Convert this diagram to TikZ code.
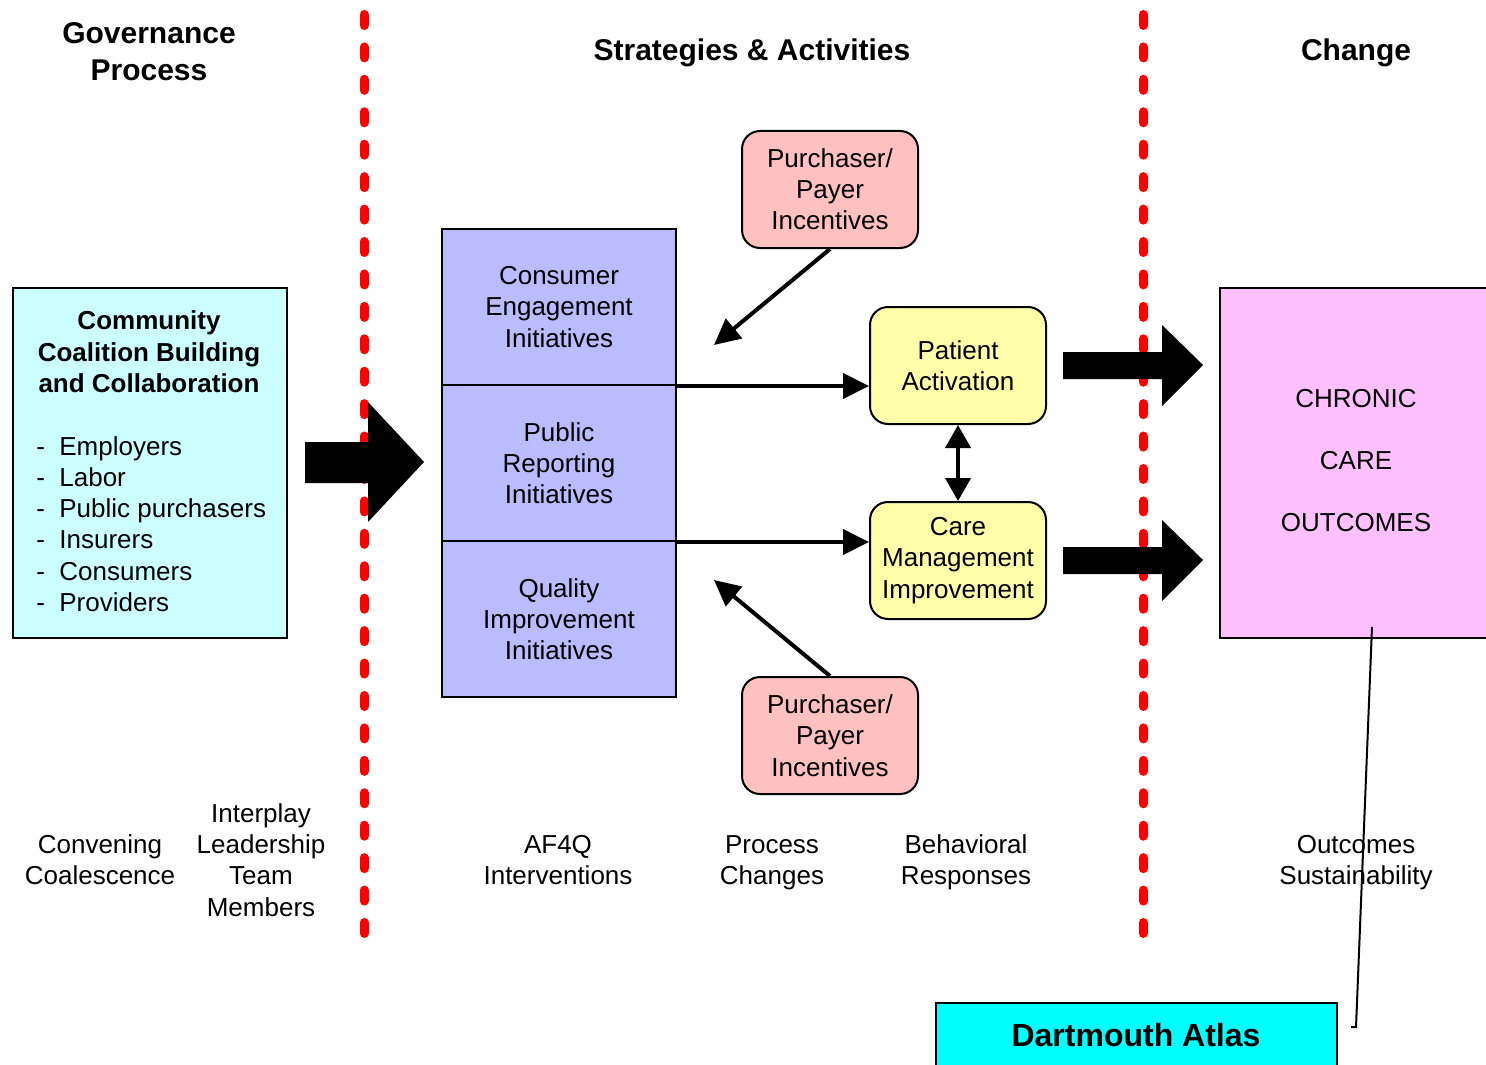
\documentclass[tikz,border=0pt]{standalone}
\usepackage{fontspec}
\setmainfont{Liberation Sans}
\usetikzlibrary{arrows.meta}
\definecolor{cyanbox}{HTML}{CCFFFF}
\definecolor{bluebox}{HTML}{BBBBFF}
\definecolor{pinkbox}{HTML}{FFC0C0}
\definecolor{yellowbox}{HTML}{FFFFAA}
\definecolor{magbox}{HTML}{FFC0FF}
\definecolor{atlas}{HTML}{00FFFF}
\begin{document}
\begin{tikzpicture}[x=0.5pt,y=-0.5pt,
  txt/.style={font=\fontsize{13}{15.6}\selectfont, align=center, inner sep=0pt},
  ttl/.style={font=\bfseries\fontsize{15}{18.5}\selectfont, align=center, inner sep=0pt},
  box/.style={draw=black, line width=1pt, inner sep=0pt, font=\fontsize{13}{15.6}\selectfont, align=center},
  rbox/.style={box, rounded corners=9pt},
  redline/.style={draw=red, line width=4.5pt, line cap=round, dash pattern=on 5.5pt off 10.714pt},
  conn/.style={line width=2pt, -{Triangle[length=13pt,width=12.5pt]}},
  dconn/.style={line width=2pt, {Triangle[length=11.5pt,width=12.5pt]}-{Triangle[length=11.5pt,width=12.5pt]}},
  blockarrow/.style={fill=black},
]
\useasboundingbox (0,0) rectangle (1486,1064);
\clip (0,0) rectangle (1486,1064);
\fill[white] (0,0) rectangle (1486,1064);

% column titles
\node[ttl] (t1) at (149,52) {Governance\\Process};
\node[ttl] (t2) at (752,53) {Strategies \& Activities};
\node[ttl] (t3) at (1356,53) {Change};

% red dividers
\coordinate (r1a) at (364,14.5);
\coordinate (r1b) at (364,933.5);
\coordinate (r2a) at (1143,14.5);
\coordinate (r2b) at (1143,933.5);
\draw[redline] (r1a) -- (r1b);
\draw[redline] (r2a) -- (r2b);

% governance box
\node[box, fill=cyanbox, minimum width=137pt, minimum height=175pt] (gov) at (150,463) {};
\node[txt, font=\bfseries\fontsize{13}{15.75}\selectfont] (govt) at (149,352) {Community\\Coalition Building\\and Collaboration};
\node[txt, align=left, anchor=west] (list) at (36,524) {\makebox[11.5pt][l]{-}Employers\\\makebox[11.5pt][l]{-}Labor\\\makebox[11.5pt][l]{-}Public purchasers\\\makebox[11.5pt][l]{-}Insurers\\\makebox[11.5pt][l]{-}Consumers\\\makebox[11.5pt][l]{-}Providers};

% left block arrow
\fill[blockarrow] (305,442) -- (368,442) -- (368,402) -- (424,462) -- (368,522) -- (368,483) -- (305,483) -- cycle;

% strategy boxes
\node[box, fill=bluebox, minimum width=117pt, minimum height=78pt] (b1) at (559,307) {Consumer\\Engagement\\Initiatives};
\node[box, fill=bluebox, minimum width=117pt, minimum height=78pt] (b2) at (559,463) {Public\\Reporting\\Initiatives};
\node[box, fill=bluebox, minimum width=117pt, minimum height=78pt] (b3) at (559,619) {Quality\\Improvement\\Initiatives};

% incentives
\node[rbox, fill=pinkbox, minimum width=88pt, minimum height=58.5pt] (pp1) at (830,189.5) {Purchaser/\\Payer\\Incentives};
\node[rbox, fill=pinkbox, minimum width=88pt, minimum height=58.5pt] (pp2) at (830,735.5) {Purchaser/\\Payer\\Incentives};

% behavioural responses
\node[rbox, fill=yellowbox, minimum width=88pt, minimum height=58.5pt] (pa) at (958,365.5) {Patient\\Activation};
\node[rbox, fill=yellowbox, minimum width=88pt, minimum height=58.5pt] (cm) at (958,560.5) {Care\\Management\\Improvement};

% connectors
\draw[conn] (b1.south east) -- (b1.south east -| pa.west);
\draw[conn] (b2.south east) -- (b2.south east -| cm.west);
\coordinate (d1) at (714,345);
\coordinate (d2) at (714,580);
\draw[conn] (pp1.south) -- (d1);
\draw[conn] (pp2.north) -- (d2);
\draw[dconn] (pa.south) -- (cm.north);

% right block arrows
\fill[blockarrow] (1063,352) -- (1162,352) -- (1162,325) -- (1203,365) -- (1162,406) -- (1162,379) -- (1063,379) -- cycle;
\fill[blockarrow] (1063,547) -- (1162,547) -- (1162,520) -- (1203,560) -- (1162,601) -- (1162,574) -- (1063,574) -- cycle;

% outcomes box
\node[box, fill=magbox, minimum width=150pt, minimum height=175pt] (co) at (1370,463) {};
\node[txt, font=\fontsize{13}{31}\selectfont] (cot) at (1356,461) {CHRONIC\\CARE\\OUTCOMES};

% bottom labels
\node[txt] (l1) at (100,860) {Convening\\Coalescence};
\node[txt] (l2) at (261,860) {Interplay\\Leadership\\Team\\Members};
\node[txt] (l3) at (558,860) {AF4Q\\Interventions};
\node[txt] (l4) at (772,863) {Process\\Changes};
\node[txt] (l5) at (966,862) {Behavioral\\Responses};
\node[txt] (l6) at (1356,863) {Outcomes\\Sustainability};

% Dartmouth Atlas
\node[box, fill=atlas, minimum width=200.5pt, minimum height=40pt] (da) at (1136.5,1043) {};
\node[txt, font=\bfseries\fontsize{16}{19}\selectfont] (dat) at (1136,1035) {Dartmouth Atlas};

% thin pointer line
\coordinate (pt1) at (1372,627);
\coordinate (pt2) at (1356,1027);
\coordinate (pt3) at (1351,1027);
\draw[line width=1pt] (pt1) -- (pt2) -- (pt3);
\end{tikzpicture}
\end{document}
